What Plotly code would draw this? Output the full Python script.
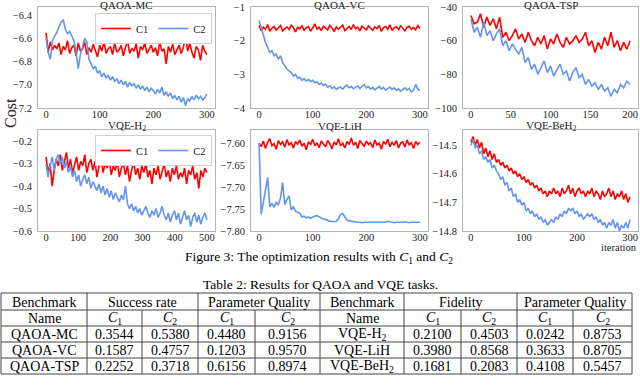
import numpy as np
import plotly.graph_objects as go

mc_c1 = [-6.55, -6.72, -6.63, -6.70, -6.66, -6.69, -6.64, -6.74, -6.67, -6.70, -6.62, -6.73, -6.68, -6.66, -6.75, -6.64,
         -6.71, -6.69, -6.63, -6.74, -6.68, -6.72, -6.65, -6.70, -6.76, -6.66, -6.71, -6.63, -6.73, -6.69, -6.67, -6.74,
         -6.64, -6.72, -6.70, -6.66, -6.75, -6.68, -6.62, -6.73, -6.69, -6.71, -6.65, -6.77, -6.67, -6.70, -6.64, -6.73,
         -6.69, -6.66, -6.72, -6.68, -6.75, -6.63, -6.71, -6.69, -6.82, -6.67, -6.72, -6.65, -6.74, -6.70, -6.66, -6.73,
         -6.68, -6.57, -6.71, -6.64, -6.72, -6.77, -6.67, -6.70, -6.79, -6.66, -6.71, -6.74]
mc_c2 = [-6.60, -6.72, -6.78, -6.62, -6.58, -6.55, -6.50, -6.46, -6.44, -6.52, -6.56, -6.54, -6.58, -6.62, -6.72, -6.86,
         -6.74, -6.66, -6.60, -6.63, -6.78, -6.82, -6.86, -6.84, -6.90, -6.88, -6.93, -6.90, -6.94, -6.92, -6.96, -6.93,
         -6.97, -6.95, -6.99, -6.96, -7.00, -6.97, -7.02, -6.98, -7.01, -6.99, -7.03, -7.00, -7.04, -7.01, -7.05, -7.02,
         -7.06, -7.03, -7.05, -7.08, -7.04, -7.07, -7.02, -7.09, -7.06, -7.10, -7.07, -7.12, -7.09, -7.13, -7.10, -7.15,
         -7.11, -7.18, -7.12, -7.14, -7.10, -7.13, -7.09, -7.12, -7.10, -7.13, -7.11, -7.08]

vc_c1 = [-1.55, -1.70, -1.60, -1.66, -1.52, -1.72, -1.63, -1.58, -1.69, -1.61, -1.55, -1.71, -1.64, -1.59, -1.67, -1.53,
         -1.62, -1.74, -1.60, -1.65, -1.56, -1.69, -1.61, -1.58, -1.72, -1.63, -1.50, -1.66, -1.60, -1.70, -1.57, -1.64,
         -1.68, -1.55, -1.62, -1.73, -1.59, -1.66, -1.61, -1.54, -1.70, -1.63, -1.58, -1.67, -1.52, -1.65, -1.60, -1.71,
         -1.57, -1.63, -1.68, -1.56, -1.62, -1.69, -1.59, -1.64, -1.55, -1.72, -1.61, -1.58, -1.66, -1.53, -1.70, -1.62,
         -1.59, -1.67, -1.56, -1.63, -1.71, -1.60, -1.57, -1.66, -1.61, -1.68, -1.55, -1.64]
vc_c2 = [-1.40, -1.62, -1.85, -2.05, -2.20, -2.35, -2.30, -2.45, -2.40, -2.55, -2.45, -2.65, -2.75, -2.85, -2.90, -2.95,
         -3.05, -3.00, -3.12, -3.08, -3.18, -3.13, -3.20, -3.15, -3.22, -3.18, -3.25, -3.22, -3.30, -3.26, -3.33, -3.29,
         -3.38, -3.34, -3.42, -3.37, -3.45, -3.40, -3.38, -3.44, -3.36, -3.32, -3.40, -3.36, -3.43, -3.38, -3.34, -3.42,
         -3.37, -3.30, -3.40, -3.36, -3.44, -3.39, -3.46, -3.41, -3.36, -3.44, -3.39, -3.47, -3.42, -3.38, -3.45, -3.40,
         -3.48, -3.43, -3.50, -3.44, -3.40, -3.47, -3.42, -3.52, -3.46, -3.30, -3.44, -3.48]

tsp_c1 = [-45, -50, -49, -44, -52, -46, -51, -47, -53, -46, -58, -55, -60, -57, -53, -59, -56, -61, -55, -60, -63, -58,
          -62, -57, -65, -59, -62, -56, -61, -64, -58, -62, -60, -57, -61, -59, -55, -63, -60, -67, -61, -65, -58, -63,
          -55, -64, -60, -66, -61, -65, -60]
tsp_c2 = [-47, -55, -52, -58, -49, -57, -54, -60, -56, -53, -63, -60, -66, -62, -65, -68, -64, -73, -70, -77, -74, -80,
          -76, -72, -79, -75, -81, -77, -74, -80, -78, -84, -79, -76, -82, -80, -86, -83, -87, -85, -89, -86, -90, -88,
          -93, -89, -91, -86, -88, -84, -86]

h2_c1 = [-0.27, -0.34, -0.30, -0.40, -0.33, -0.28, -0.31, -0.26, -0.33, -0.29, -0.25, -0.32, -0.28, -0.34, -0.30, -0.27,
         -0.33, -0.29, -0.31, -0.26, -0.34, -0.30, -0.28, -0.33, -0.29, -0.36, -0.31, -0.27, -0.34, -0.30, -0.32, -0.28,
         -0.35, -0.31, -0.33, -0.29, -0.36, -0.32, -0.30, -0.35, -0.31, -0.38, -0.33, -0.29, -0.35, -0.32, -0.37, -0.31,
         -0.34, -0.30, -0.36, -0.33, -0.39, -0.32, -0.35, -0.31, -0.37, -0.34, -0.30, -0.36, -0.33, -0.38, -0.32, -0.35,
         -0.31, -0.37, -0.34, -0.36, -0.32, -0.39, -0.33, -0.35, -0.31, -0.37, -0.34, -0.41, -0.33, -0.36, -0.32, -0.34]
h2_c2 = [-0.30, -0.36, -0.31, -0.27, -0.33, -0.28, -0.26, -0.30, -0.27, -0.32, -0.29, -0.34, -0.31, -0.36, -0.33, -0.38,
         -0.35, -0.40, -0.37, -0.35, -0.39, -0.36, -0.41, -0.38, -0.40, -0.42, -0.39, -0.43, -0.40, -0.44, -0.41, -0.45,
         -0.42, -0.46, -0.43, -0.45, -0.47, -0.44, -0.46, -0.40, -0.48, -0.50, -0.48, -0.51, -0.49, -0.52, -0.50, -0.53,
         -0.51, -0.49, -0.52, -0.54, -0.51, -0.53, -0.50, -0.54, -0.52, -0.49, -0.53, -0.55, -0.52, -0.56, -0.53, -0.51,
         -0.55, -0.52, -0.57, -0.54, -0.51, -0.55, -0.53, -0.58, -0.54, -0.52, -0.56, -0.53, -0.57, -0.54, -0.52, -0.55]

lih_c1 = [-7.600, -7.608, -7.595, -7.612, -7.598, -7.590, -7.606, -7.601, -7.614, -7.594, -7.603, -7.597, -7.609,
          -7.592, -7.604, -7.599, -7.611, -7.596, -7.602, -7.593, -7.607, -7.600, -7.615, -7.597, -7.603, -7.591,
          -7.606, -7.599, -7.610, -7.595, -7.602, -7.608, -7.594, -7.601, -7.613, -7.597, -7.604, -7.590, -7.606,
          -7.600, -7.611, -7.596, -7.603, -7.588, -7.605, -7.598, -7.612, -7.594, -7.601, -7.607, -7.595, -7.603,
          -7.599, -7.610, -7.593, -7.604, -7.600, -7.614, -7.596, -7.602, -7.591, -7.608, -7.598, -7.605, -7.594,
          -7.611, -7.600, -7.597, -7.609, -7.593, -7.604, -7.599, -7.612, -7.596, -7.603, -7.598]
lih_c2 = [-7.600, -7.762, -7.735, -7.705, -7.678, -7.745, -7.738, -7.745, -7.735, -7.740, -7.725, -7.690, -7.740,
          -7.728, -7.720, -7.752, -7.745, -7.755, -7.758, -7.760, -7.768, -7.766, -7.770, -7.768, -7.771, -7.768,
          -7.766, -7.765, -7.768, -7.770, -7.773, -7.774, -7.776, -7.778, -7.778, -7.779, -7.778, -7.772, -7.762,
          -7.760, -7.768, -7.775, -7.777, -7.778, -7.779, -7.780, -7.780, -7.780, -7.781, -7.780, -7.780, -7.781,
          -7.780, -7.781, -7.780, -7.781, -7.780, -7.780, -7.781, -7.780, -7.778, -7.779, -7.780, -7.781, -7.780,
          -7.780, -7.781, -7.780, -7.779, -7.780, -7.781, -7.780, -7.780, -7.781, -7.780, -7.780]

beh2_c1 = [-14.49, -14.47, -14.50, -14.48, -14.51, -14.49, -14.53, -14.51, -14.54, -14.52, -14.55, -14.53, -14.56,
           -14.55, -14.57, -14.56, -14.58, -14.57, -14.59, -14.58, -14.60, -14.59, -14.61, -14.60, -14.62, -14.61,
           -14.63, -14.62, -14.64, -14.63, -14.65, -14.64, -14.66, -14.65, -14.67, -14.66, -14.68, -14.66, -14.67,
           -14.65, -14.67, -14.66, -14.68, -14.65, -14.67, -14.66, -14.64, -14.67, -14.65, -14.68, -14.66, -14.65,
           -14.67, -14.66, -14.68, -14.66, -14.67, -14.65, -14.68, -14.66, -14.67, -14.69, -14.66, -14.68, -14.67,
           -14.65, -14.68, -14.66, -14.69, -14.67, -14.68, -14.66, -14.69, -14.67, -14.70, -14.68]
beh2_c2 = [-14.50, -14.48, -14.51, -14.50, -14.53, -14.52, -14.55, -14.54, -14.56, -14.55, -14.58, -14.57, -14.59,
           -14.60, -14.62, -14.61, -14.64, -14.63, -14.66, -14.65, -14.68, -14.67, -14.70, -14.69, -14.71, -14.70,
           -14.73, -14.72, -14.74, -14.73, -14.75, -14.74, -14.76, -14.75, -14.77, -14.76, -14.78, -14.77, -14.76,
           -14.77, -14.75, -14.76, -14.74, -14.75, -14.73, -14.74, -14.72, -14.73, -14.72, -14.74, -14.73, -14.75,
           -14.74, -14.76, -14.75, -14.74, -14.75, -14.74, -14.76, -14.75, -14.77, -14.76, -14.78, -14.77, -14.79,
           -14.77, -14.78, -14.76, -14.79, -14.77, -14.80, -14.78, -14.79, -14.77, -14.79, -14.76]

# ---- table data ----
qaoa_names = ["QAOA-MC", "QAOA-VC", "QAOA-TSP"]
qaoa_success = [["0.3544", "0.5380"], ["0.1587", "0.4757"], ["0.2252", "0.3718"]]
qaoa_quality = [["0.4480", "0.9156"], ["0.1203", "0.9570"], ["0.6156", "0.8974"]]
vqe_names = ["VQE-H<sub>2</sub>", "VQE-LiH", "VQE-BeH<sub>2</sub>"]
vqe_fidelity = [["0.2100", "0.4503"], ["0.3980", "0.8568"], ["0.1681", "0.2083"]]
vqe_quality = [["0.0242", "0.8753"], ["0.3633", "0.8705"], ["0.4108", "0.5457"]]

W, H = 640, 392
SERIF = "Liberation Serif"
RED, BLUE = "#ff0000", "#6495ed"


def px(x):
    return x / W


def py(y):
    return 1 - y / H


# title, iterations, c1, c2, y range, y ticks, tick format, x ticks
panels = [
    ("QAOA-MC", 300, mc_c1, mc_c2, [-7.2, -6.33], [-6.4, -6.6, -6.8, -7.0, -7.2], ".1f", [0, 100, 200, 300]),
    ("QAOA-VC", 300, vc_c1, vc_c2, [-4, -1], [-1, -2, -3, -4], "d", [0, 100, 200, 300]),
    ("QAOA-TSP", 200, tsp_c1, tsp_c2, [-100, -40], [-40, -60, -80, -100], "d", [0, 50, 100, 150, 200]),
    ("VQE-H<sub>2</sub>", 500, h2_c1, h2_c2, [-0.6, -0.15], [-0.2, -0.3, -0.4, -0.5, -0.6], ".1f",
     [0, 100, 200, 300, 400, 500]),
    ("VQE-LiH", 300, lih_c1, lih_c2, [-7.8, -7.57], [-7.60, -7.65, -7.70, -7.75, -7.80], ".2f", [0, 100, 200, 300]),
    ("VQE-BeH<sub>2</sub>", 300, beh2_c1, beh2_c2, [-14.8, -14.447], [-14.5, -14.6, -14.7, -14.8], ".1f",
     [0, 100, 200, 300]),
]

col_px = [(38, 215), (251, 428), (463, 638)]
row_px = [(7, 108), (130, 231)]
title_y = [4.5, 125.5]

fig = go.Figure()
layout = {}
annotations = []

for i, (title, n_iter, c1, c2, yrange, yticks, fmt, xticks) in enumerate(panels):
    k = i + 1
    sfx = "" if k == 1 else str(k)
    r, c = divmod(i, 3)
    x0, x1 = col_px[c]
    y0, y1 = row_px[r]
    legend_name = "legend" if k == 1 else ("legend2" if k == 4 else None)
    for name, vals, color in (("C1", c1, RED), ("C2", c2, BLUE)):
        fig.add_trace(go.Scatter(
            x=np.linspace(0, n_iter, len(vals)), y=vals, mode="lines", name=name,
            line=dict(color=color, width=1.6),
            xaxis="x" + sfx, yaxis="y" + sfx,
            showlegend=legend_name is not None,
            legend=legend_name if legend_name else "legend",
        ))
    pad = n_iter * 0.05
    axis_common = dict(showline=True, mirror=True, linecolor="#b5b5b5", linewidth=1,
                       showgrid=False, zeroline=False, ticks="", ticklen=0, automargin=False,
                       tickfont=dict(family=SERIF, size=10.5, color="#222"))
    layout["xaxis" + sfx] = dict(domain=[px(x0), px(x1)], anchor="y" + sfx, range=[-pad, n_iter + pad],
                                 tickvals=xticks, ticklabelstandoff=-4, **axis_common)
    layout["yaxis" + sfx] = dict(domain=[py(y1), py(y0)], anchor="x" + sfx, range=yrange,
                                 tickvals=yticks, tickformat=fmt, ticklabelstandoff=3, **axis_common)
    annotations.append(dict(text=title, x=px((x0 + x1) / 2), y=py(title_y[r]), xref="paper", yref="paper",
                            xanchor="center", yanchor="middle", showarrow=False,
                            font=dict(family=SERIF, size=11, color="#222")))

leg_common = dict(orientation="h", xanchor="right", yanchor="top", bgcolor="white",
                  bordercolor="#d0d0d0", borderwidth=1, font=dict(family=SERIF, size=10.5, color="#222"),
                  itemwidth=30, tracegroupgap=0)
layout["legend"] = dict(x=px(212), y=py(13), **leg_common)
layout["legend2"] = dict(x=px(212), y=py(135), **leg_common)

annotations.append(dict(text="Cost", x=px(11), y=py(113), xref="paper", yref="paper", textangle=-90,
                        xanchor="center", yanchor="middle", showarrow=False,
                        font=dict(family=SERIF, size=16, color="#222")))
annotations.append(dict(text="iteration", x=px(639), y=py(247.5), xref="paper", yref="paper",
                        xanchor="right", yanchor="middle", showarrow=False,
                        font=dict(family=SERIF, size=10.5, color="#222")))
annotations.append(dict(text="Figure 3: The optimization results with <i>C</i><sub>1</sub> and <i>C</i><sub>2</sub>",
                        x=px(319), y=py(257.5), xref="paper", yref="paper", showarrow=False,
                        xanchor="center", yanchor="middle",
                        font=dict(family=SERIF, size=13.5, color="black")))
annotations.append(dict(text="Table 2: Results for QAOA and VQE tasks.", x=px(320), y=py(284),
                        xref="paper", yref="paper", showarrow=False, xanchor="center", yanchor="middle",
                        font=dict(family=SERIF, size=13.5, color="black")))

# ---- table ----
cols = [1, 87, 142, 198, 255, 320, 404, 461, 517, 573, 632]
rows = [293, 310, 326, 342, 358, 374]
shapes = []
line_style = dict(color="#444", width=1)
for yv in rows:
    shapes.append(dict(type="line", xref="paper", yref="paper", x0=px(cols[0]), x1=px(cols[-1]),
                       y0=py(yv), y1=py(yv), line=line_style))
group_cols = [1, 87, 198, 320, 404, 517, 632]
for xv in cols:
    top = rows[0] if xv in group_cols else rows[1]
    shapes.append(dict(type="line", xref="paper", yref="paper", x0=px(xv), x1=px(xv),
                       y0=py(top), y1=py(rows[-1]), line=line_style))


def cell(text, xa, xb, row):
    annotations.append(dict(text=text, x=px((xa + xb) / 2), y=py((rows[row] + rows[row + 1]) / 2 + 0.5),
                            xref="paper", yref="paper", showarrow=False,
                            xanchor="center", yanchor="middle",
                            font=dict(family=SERIF, size=14, color="black")))


c1_txt, c2_txt = "<i>C</i><sub>1</sub>", "<i>C</i><sub>2</sub>"
cell("Benchmark", cols[0], cols[1], 0)
cell("Success rate", cols[1], cols[3], 0)
cell("Parameter Quality", cols[3], cols[5], 0)
cell("Benchmark", cols[5], cols[6], 0)
cell("Fidelity", cols[6], cols[8], 0)
cell("Parameter Quality", cols[8], cols[10], 0)
for off in (0, 5):
    cell("Name", cols[off], cols[off + 1], 1)
    for j in range(4):
        cell(c1_txt if j % 2 == 0 else c2_txt, cols[off + 1 + j], cols[off + 2 + j], 1)
for r in range(3):
    left = [qaoa_names[r]] + qaoa_success[r] + qaoa_quality[r]
    right = [vqe_names[r]] + vqe_fidelity[r] + vqe_quality[r]
    for j, t in enumerate(left + right):
        cell(t, cols[j], cols[j + 1], r + 2)

fig.update_layout(width=W, height=H, margin=dict(l=0, r=0, t=0, b=0, autoexpand=False),
                  plot_bgcolor="white", paper_bgcolor="white",
                  annotations=annotations, shapes=shapes, **layout)

# the page's default body margin would shift the figure by 8px
fig.write_html("out.html", config={"displayModeBar": False},
               post_script="document.body.style.margin='0';document.body.style.padding='0';")
